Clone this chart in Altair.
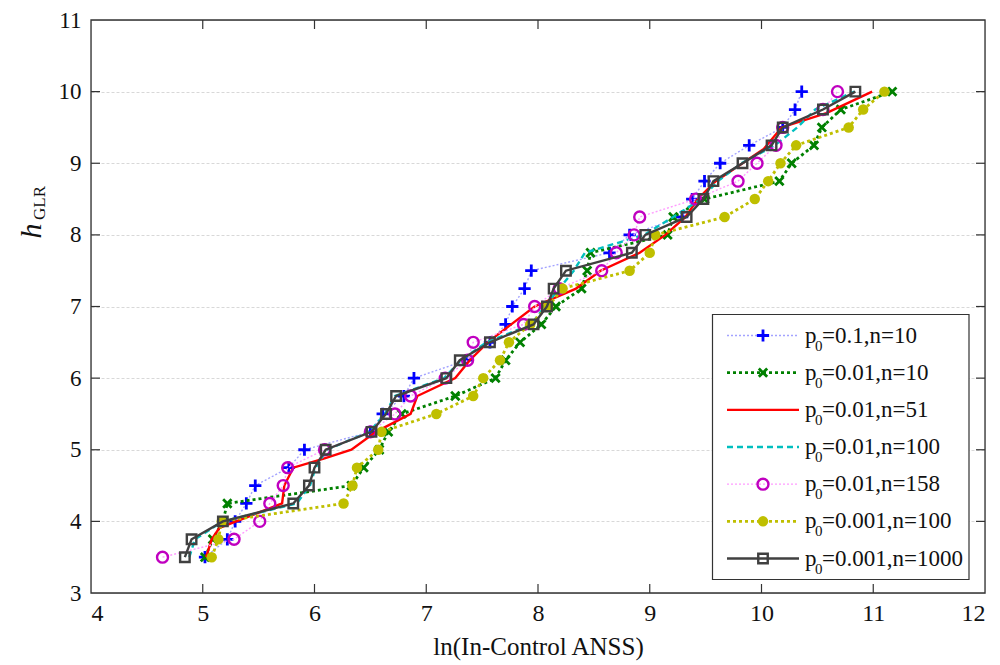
import altair as alt
import pandas as pd

# ---------------- data ----------------
h_levels = [3.5, 3.75, 4.0, 4.25, 4.5, 4.75, 5.0, 5.25, 5.5, 5.75, 6.0, 6.25, 6.5,
            6.75, 7.0, 7.25, 7.5, 7.75, 8.0, 8.25, 8.5, 8.75, 9.0, 9.25, 9.5, 9.75, 10.0]

x_p01_n10 = [5.02, 5.22, 5.29, 5.39, 5.47, 5.77, 5.91, 6.50, 6.61, 6.80, 6.89, 7.36, 7.57,
             7.71, 7.77, 7.88, 7.94, 8.64, 8.82, 9.29, 9.38, 9.49, 9.63, 9.89, 10.19, 10.30, 10.36]
x_p001_n10 = [5.02, 5.09, 5.18, 5.22, 6.33, 6.44, 6.58, 6.66, 6.78, 7.26, 7.62, 7.71, 7.84,
              8.03, 8.16, 8.39, 8.44, 8.47, 9.16, 9.21, 9.49, 10.16, 10.27, 10.47, 10.54, 10.71, 11.17]
h_red = [3.5, 3.75, 3.91, 4.25, 4.5, 4.75, 4.88, 5.0, 5.25, 5.5, 5.75, 6.0, 6.25, 6.5,
         6.75, 7.0, 7.25, 7.5, 7.75, 8.0, 8.25, 8.5, 8.75, 9.0, 9.2, 9.5, 9.7, 10.0]
x_p001_n51 = [5.03, 5.08, 5.15, 5.71, 5.73, 5.81, 6.09, 6.33, 6.55, 6.86, 6.92, 7.26, 7.39, 7.55,
              7.76, 7.97, 8.34, 8.56, 8.91, 9.14, 9.32, 9.43, 9.59, 9.83, 10.02, 10.18, 10.58, 10.99]
x_p001_n100 = [4.88, 4.93, 5.18, 5.84, 5.96, 6.01, 6.11, 6.49, 6.63, 6.72, 7.16, 7.31, 7.54,
               7.94, 8.06, 8.19, 8.32, 8.42, 8.95, 9.21, 9.46, 9.61, 9.82, 10.12, 10.32, 10.48, 10.83]
x_p001_n158 = [4.64, 5.28, 5.51, 5.60, 5.72, 5.76, 6.09, 6.50, 6.72, 6.86, 7.17, 7.37, 7.42,
               7.87, 7.97, 8.19, 8.57, 8.70, 8.86, 8.91, 9.41, 9.79, 9.96, 10.13, 10.19, 10.55, 10.68]
x_p0001_n100 = [5.08, 5.14, 5.17, 6.26, 6.34, 6.38, 6.57, 6.60, 7.09, 7.42, 7.51, 7.66, 7.74,
                7.93, 8.09, 8.22, 8.82, 9.00, 9.05, 9.67, 9.94, 10.06, 10.17, 10.31, 10.78, 10.91, 11.10]
x_p0001_n1000 = [4.84, 4.90, 5.18, 5.81, 5.95, 6.00, 6.10, 6.51, 6.64, 6.73, 7.18, 7.30, 7.57,
                 7.96, 8.08, 8.14, 8.25, 8.84, 8.96, 9.33, 9.48, 9.57, 9.83, 10.09, 10.19, 10.55, 10.84]

legend_rest = ["=0.1,n=10", "=0.01,n=10", "=0.01,n=51", "=0.01,n=100",
               "=0.01,n=158", "=0.001,n=100", "=0.001,n=1000"]

x_ticks = [4, 5, 6, 7, 8, 9, 10, 11, 12]
y_ticks = [3, 4, 5, 6, 7, 8, 9, 10, 11]

# ---------------- styles ----------------
W, H = 894, 573
FONT = "Liberation Serif"
PLUS = "M-1,0L1,0M0,-1L0,1"
XMARK = "M-1,-1L1,1M-1,1L1,-1"

series = [
    dict(h=h_levels, x=x_p01_n10, line=dict(color="#a3a3ff", strokeWidth=1.4, strokeDash=[2, 2]),
         pt=dict(shape=PLUS, filled=False, color="#0000ff", strokeWidth=2.8, size=150, opacity=1)),
    dict(h=h_levels, x=x_p001_n10, line=dict(color="#008000", strokeWidth=2.8, strokeDash=[3, 3]),
         pt=dict(shape=XMARK, filled=False, color="#008000", strokeWidth=2.8, size=70, opacity=1)),
    dict(h=h_red, x=x_p001_n51, line=dict(color="#ff0000", strokeWidth=2.4), pt=None),
    dict(h=h_levels, x=x_p001_n100, line=dict(color="#00bfbf", strokeWidth=2.4, strokeDash=[6, 4]),
         pt=None),
    dict(h=h_levels, x=x_p001_n158, line=dict(color="#ff9cff", strokeWidth=1.4, strokeDash=[2, 2]),
         pt=dict(shape="circle", filled=False, color="#c000c0", strokeWidth=2.4, size=120, opacity=1)),
    dict(h=h_levels, x=x_p0001_n100, line=dict(color="#bfbf00", strokeWidth=2.8, strokeDash=[3, 3]),
         pt=dict(shape="circle", filled=True, color="#bfbf00", opacity=1, size=110)),
    dict(h=h_levels, x=x_p0001_n1000, line=dict(color="#404040", strokeWidth=2.4),
         pt=dict(shape="square", filled=False, color="#404040", strokeWidth=2.4, size=90, opacity=1)),
]

xscale = alt.Scale(domain=[4, 12], nice=False, zero=False)
yscale = alt.Scale(domain=[3, 11], nice=False, zero=False)

xaxis = alt.Axis(values=x_ticks, grid=False, ticks=False, domain=False, labelFont=FONT,
                 labelFontSize=24, labelColor="#111", labelPadding=8, title="ln(In-Control ANSS)",
                 titleFont=FONT, titleFontSize=25, titleFontWeight="normal", titleColor="#111",
                 titlePadding=9)
yaxis = alt.Axis(values=y_ticks, grid=True, gridColor="#d8d8d8", gridDash=[3, 2], gridWidth=1,
                 ticks=False, domain=False, labelFont=FONT, labelFontSize=23, labelColor="#111",
                 labelPadding=10, title=None)

X = alt.X("x:Q", scale=xscale, axis=xaxis)
Y = alt.Y("h:Q", scale=yscale, axis=yaxis)

main_layers = []
for s in series:
    df = pd.DataFrame({"x": s["x"], "h": s["h"]})
    base = alt.Chart(df)
    main_layers.append(base.mark_line(**s["line"]).encode(x=X, y=Y, order="h:Q"))
    if s["pt"] is not None:
        main_layers.append(base.mark_point(**s["pt"]).encode(x=X, y=Y))

# inward ticks (box style)
xt = pd.DataFrame({"x": x_ticks[1:-1]})
yt = pd.DataFrame({"h": y_ticks[1:-1]})
tick_style = dict(color="#333", strokeWidth=1.2)
one = pd.DataFrame({"a": [0]})
main_layers += [
    alt.Chart(xt).mark_rule(**tick_style).encode(x=X, y=alt.value(H), y2=alt.value(H - 9)),
    alt.Chart(xt).mark_rule(**tick_style).encode(x=X, y=alt.value(0), y2=alt.value(9)),
    alt.Chart(yt).mark_rule(**tick_style).encode(y=Y, x=alt.value(0), x2=alt.value(9)),
    alt.Chart(yt).mark_rule(**tick_style).encode(y=Y, x=alt.value(W), x2=alt.value(W - 9)),
    alt.Chart(one).mark_rect(fill=None, fillOpacity=0, stroke="#333", strokeWidth=1.3)
    .encode(x=alt.value(0), x2=alt.value(W), y=alt.value(0), y2=alt.value(H)),
]

# y-axis title h_GLR
main_layers += [
    alt.Chart(one).mark_text(text="h", font=FONT, fontSize=30, fontStyle="italic", angle=270,
                             align="center", baseline="middle", color="#111")
    .encode(x=alt.value(-59), y=alt.value(211)),
    alt.Chart(one).mark_text(text="GLR", font=FONT, fontSize=17, angle=270,
                             align="center", baseline="middle", color="#111")
    .encode(x=alt.value(-51), y=alt.value(183)),
]

main = alt.layer(*main_layers)

# ---------------- custom legend ----------------
leg_df = pd.DataFrame({"key": legend_rest})
LY = alt.Y("key:N", scale=alt.Scale(type="point", domain=legend_rest, range=[315.5, 538.5], padding=0),
           axis=None)
leg_layers = [
    alt.Chart(one).mark_rect(fill="white", stroke="#333", strokeWidth=1.2)
    .encode(x=alt.value(621.5), x2=alt.value(878), y=alt.value(294.5), y2=alt.value(559.5))
]
for key, s in zip(legend_rest, series):
    sub = alt.Chart(leg_df).transform_filter(alt.datum.key == key)
    leg_layers.append(sub.mark_rule(**s["line"]).encode(y=LY, x=alt.value(636), x2=alt.value(708)))
    if s["pt"] is not None:
        leg_layers.append(sub.mark_point(**s["pt"]).encode(y=LY, x=alt.value(672)))
leg_layers += [
    alt.Chart(leg_df).mark_text(text="p", font=FONT, fontSize=23, align="left", baseline="middle",
                                color="#111").encode(y=LY, x=alt.value(714)),
    alt.Chart(leg_df).mark_text(text="0", font=FONT, fontSize=15, align="left", baseline="middle",
                                dy=10, color="#111").encode(y=LY, x=alt.value(724)),
    alt.Chart(leg_df).mark_text(font=FONT, fontSize=23, align="left", baseline="middle",
                                color="#111").encode(y=LY, x=alt.value(731), text="key:N"),
]
legend = alt.layer(*leg_layers)

chart = (
    alt.layer(main, legend)
    .resolve_scale(y="independent")
    .resolve_axis(y="independent")
    .properties(width=W, height=H, autosize=alt.AutoSizeParams(type="none"),
                padding={"left": 83, "top": 12, "right": 7, "bottom": 70})
    .configure_view(stroke=None)
    .configure(background="white")
)

chart.save("out.html", embed_options={"renderer": "svg", "actions": False})
